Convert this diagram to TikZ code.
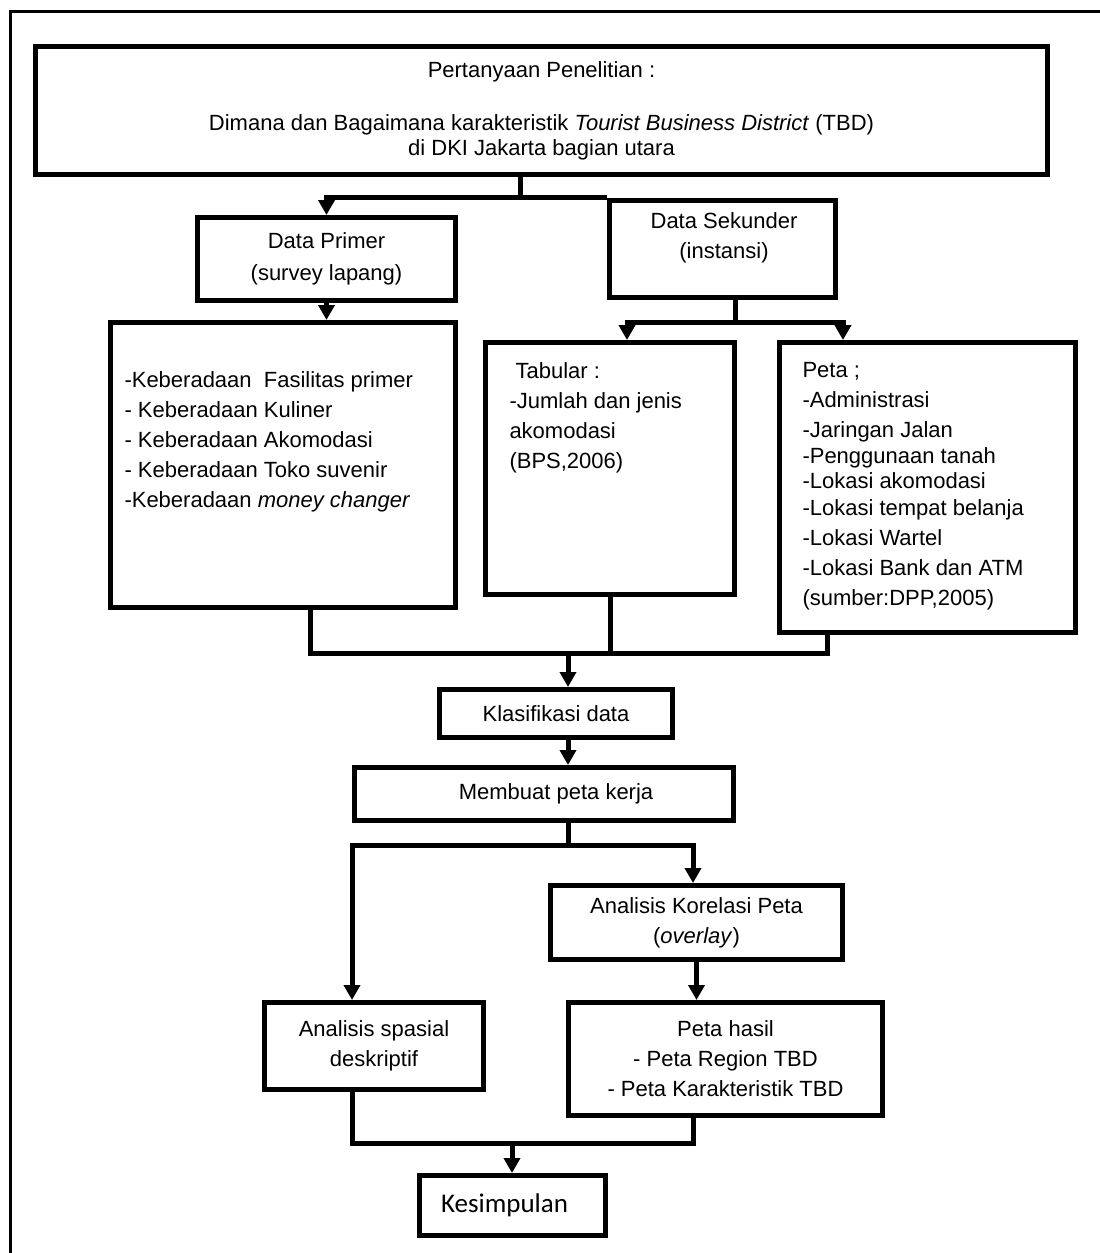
\documentclass[tikz,border=0pt]{standalone}
\usepackage{fontspec}
\setmainfont{Liberation Sans}
\newfontfamily\calibri{Carlito}
\usetikzlibrary{positioning, arrows.meta}

\begin{document}
\begin{tikzpicture}[x=1pt, y=-1pt, line width=5pt, >={Triangle[length=15pt,width=16pt]},
	box/.style={draw, rectangle, inner sep=0pt, align=center, font=\fontsize{22}{30}\selectfont},
	txt/.style={anchor=north west, align=left, inner sep=0pt, font=\fontsize{22}{30}\selectfont}]
	\useasboundingbox (0,0) rectangle (1100,1253);
	\draw[line width=3pt] (10,1253) -- (10,11) -- (1100,11);

	% boxes
	\node[box, minimum width=1012pt, minimum height=128pt, font=\fontsize{22}{25}\selectfont] (tanya) at (541.5,110.5)
		{Pertanyaan Penelitian :\\[28pt] Dimana dan Bagaimana karakteristik \textit{Tourist Business District} (TBD)\\ di DKI Jakarta bagian utara};
	\node[box, minimum width=258pt, minimum height=83pt] (primer) at (326.5,259) {Data Primer\\[2pt](survey lapang)};
	\node[box, minimum width=226pt, minimum height=97pt] (sekunder) at (722.5,249) {};
	\node[align=center, inner sep=0pt, font=\fontsize{22}{30}\selectfont] (sekundertxt) at (724,238) {Data Sekunder\\(instansi)};

	\node[box, minimum width=345pt, minimum height=285pt] (fasil) at (283,465) {};
	\node[txt] (fasiltxt) at (122,369) {-Keberadaan\ \ Fasilitas primer\\- Keberadaan Kuliner\\- Keberadaan Akomodasi\\- Keberadaan Toko suvenir\\-Keberadaan \textit{money changer}};
	\node[box, minimum width=249pt, minimum height=252pt] (tabular) at (610,468.5) {};
	\node[txt] (tabulartxt) at (507,360) {\ Tabular :\\-Jumlah dan jenis\\akomodasi\\(BPS,2006)};
	\node[box, minimum width=296pt, minimum height=290pt] (peta) at (927.5,487.5) {};
	\node[txt] (petatxt) at (800,360) {Peta ;\\-Administrasi\\-Jaringan Jalan\\[-4pt]-Penggunaan tanah\\[-5pt]-Lokasi akomodasi\\[-3pt]-Lokasi tempat belanja\\-Lokasi Wartel\\-Lokasi Bank dan ATM\\(sumber:DPP,2005)};

	\node[box, minimum width=233pt, minimum height=48pt] (klas) at (556,713.5) {Klasifikasi data};
	\node[box, minimum width=379pt, minimum height=53pt] (membuat) at (544,794) {\hspace*{24pt}Membuat peta kerja};
	\node[box, minimum width=292pt, minimum height=74pt] (korelasi) at (696.5,922.5) {Analisis Korelasi Peta\\(\textit{overlay})};
	\node[box, minimum width=219pt, minimum height=87pt] (spasial) at (374,1046) {Analisis spasial\\deskriptif};
	\node[box, minimum width=314pt, minimum height=113pt] (hasil) at (725.5,1059) {Peta hasil\\- Peta Region TBD\\- Peta Karakteristik TBD};
	\node[box, minimum width=186pt, minimum height=60pt, font=\calibri\fontsize{27}{30}\selectfont] (simpul) at (512.5,1205.5) {Kesimpulan\hspace*{16pt}};

	% connectors
	\coordinate (jA) at (520,197);
	\coordinate (jB) at (735,322);
	\coordinate (jC) at (568,653);
	\coordinate (jD) at (568,845);
	\coordinate (jE) at (512,1143);

	\draw (tanya.south -| jA) -- (jA);
	\draw[->] (jA) -| (primer.north);
	\draw (jA) -- (jA -| sekunder.west);
	\draw[->] (primer.south) -- (primer.south |- fasil.north);

	\draw (sekunder.south -| jB) -- (jB);
	\draw[->] (jB) -| ([xshift=17pt]tabular.north);
	\draw[->] (jB) -| ([xshift=-84.5pt]peta.north);

	\draw ([xshift=27pt]fasil.south) |- (jC);
	\draw (tabular.south) -- (tabular.south |- jC);
	\draw (jC) -| ([xshift=-100.5pt]peta.south);
	\draw[->] (jC) -- (jC |- klas.north);
	\draw[->] (klas.south -| jC) -- (membuat.north -| jC);

	\draw (membuat.south -| jD) -- (jD);
	\draw[->] (jD) -| ([xshift=-3.5pt]korelasi.north);
	\draw[->] (jD) -| ([xshift=-22pt]spasial.north);
	\draw[->] (korelasi.south) -- (korelasi.south |- hasil.north);

	\draw ([xshift=-22pt]spasial.south) |- (jE);
	\draw ([xshift=-32.5pt]hasil.south) |- (jE);
	\draw[->] (jE) -- (jE |- simpul.north);
\end{tikzpicture}
\end{document}
